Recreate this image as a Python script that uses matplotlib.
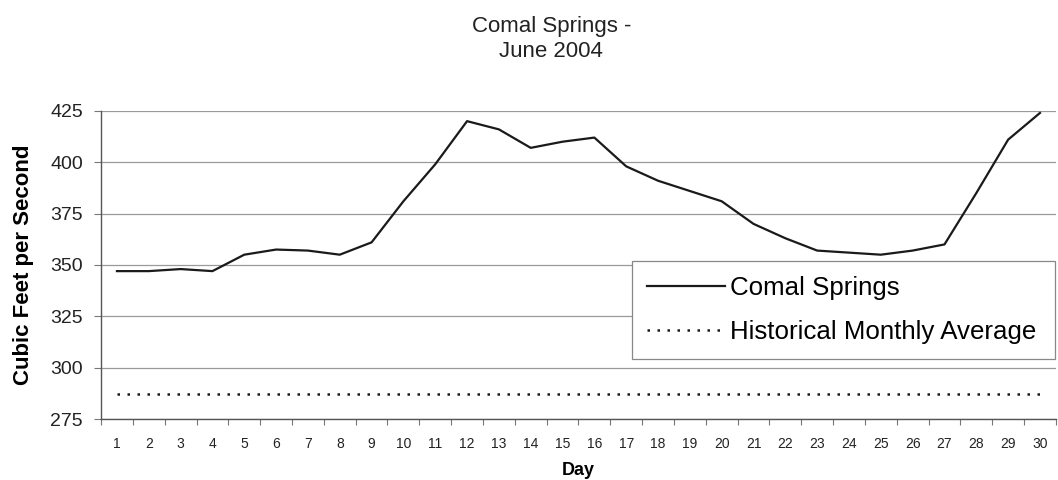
import matplotlib
matplotlib.use("Agg")
import matplotlib.pyplot as plt
import numpy as np

days = list(range(1, 31))
comal = [347, 347, 348, 347, 355, 357.5, 357, 355, 361, 381, 399, 420, 416, 407, 410,
         412, 398, 391, 386, 381, 370, 363, 357, 356, 355, 357, 360, 385, 411, 424]
hist_avg = [287] * 30
yticks = [275, 300, 325, 350, 375, 400, 425]

plt.rcParams['font.family'] = ['Liberation Sans', 'DejaVu Sans']

fig = plt.figure(figsize=(10.58, 4.8), dpi=100)
ax = fig.add_axes([0.0955, 0.127, 0.9025, 0.642])

ax.plot(days, comal, color='#1a1a1a', lw=1.6, label='Comal Springs')
ax.plot(days, hist_avg, color='#1a1a1a', lw=1.8, linestyle=(0, (1.0, 3.0)),
        label='Historical Monthly Average')

ax.set_xlim(0.5, 30.5)
ax.set_ylim(275, 425)
ax.set_yticks(yticks)
ax.set_yticklabels([str(v) for v in yticks], fontsize=14, color='#222222')
ax.set_xticks(days)
ax.set_xticklabels([str(d) for d in days], fontsize=10, color='#222222')
ax.tick_params(axis='x', which='major', length=0, pad=13)
ax.set_xticks(np.arange(0.5, 31, 1), minor=True)
ax.tick_params(axis='x', which='minor', length=4, color='#777777', width=0.8)
ax.tick_params(axis='y', length=5, color='#777777', width=0.8, pad=8)

ax.yaxis.grid(True, color='#9a9a9a', lw=0.9)
ax.set_axisbelow(True)
for s in ['top', 'right']:
    ax.spines[s].set_visible(False)
for s in ['left', 'bottom']:
    ax.spines[s].set_color('#555555')
    ax.spines[s].set_linewidth(1.0)

ax.set_ylabel('Cubic Feet per Second', fontsize=16, fontweight='bold', labelpad=12)
ax.set_xlabel('Day', fontsize=13, fontweight='bold', labelpad=8)

fig.text(0.521, 0.945, 'Comal Springs -', ha='center', va='center', fontsize=16, color='#222222')
fig.text(0.521, 0.893, 'June 2004', ha='center', va='center', fontsize=16, color='#222222')

leg = ax.legend(loc='upper left', bbox_to_anchor=(0.556, 0.205, 0.443, 0.308),
                mode='expand', fontsize=18.6, frameon=True, fancybox=False, framealpha=1,
                handlelength=3.0, handletextpad=0.2, borderpad=0.6, labelspacing=0.75,
                borderaxespad=0)
leg.get_frame().set_edgecolor('#888888')
leg.get_frame().set_linewidth(0.9)

fig.savefig('out.png', dpi=100)
